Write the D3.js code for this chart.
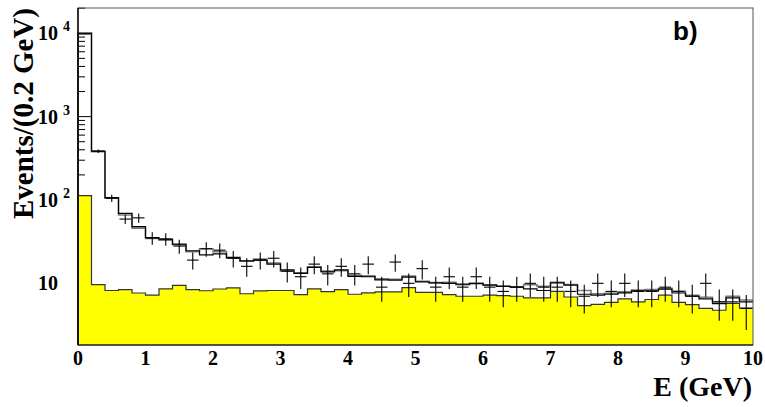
<!DOCTYPE html>
<html>
<head>
<meta charset="utf-8">
<script src="https://cdn.jsdelivr.net/npm/d3@7"></script>
<style>
  html, body { margin: 0; padding: 0; background: #fff; }
  svg { display: block; }
  .tick-label { font-family: "Liberation Serif", "DejaVu Serif", serif; font-weight: bold; font-size: 20px; fill: #000; }
  .axis-title { font-family: "Liberation Serif", "DejaVu Serif", serif; font-weight: bold; font-size: 29px; fill: #000; }
  .panel-tag { font-family: "Liberation Sans", Arial, sans-serif; font-weight: bold; font-size: 26px; fill: #000; }
</style>
</head>
<body>
<svg id="chart" width="765" height="407"></svg>
<script>
// Bin edges: 50 bins of 0.2 GeV from 0 to 10 GeV
const BIN_WIDTH = 0.2;
const X_TICKS = [0, 1, 2, 3, 4, 5, 6, 7, 8, 9, 10];
const Y_MAJOR = [10, 100, 1000, 10000];

// Background (yellow filled histogram)
const background = [113, 9.65, 8.2, 8.4, 7.65, 7.2, 8.6, 9.45, 8.4, 8.15,
  8.55, 8.8, 7.5, 8.1, 8.2, 8.2, 7.3, 8.6, 7.95, 8.4,
  7.4, 7.7, 7.9, 7.9, 8.9, 7.8, 7.8, 7.3, 7.0, 7.0,
  7.2, 7.1, 7.0, 6.7, 6.7, 8.0, 6.85, 5.4, 5.6, 5.9,
  6.5, 6.0, 6.4, 7.2, 5.9, 5.55, 5.0, 4.75, 5.75, 5.05];

// Total expectation, black line
const totalBlack = [10000, 385, 107, 69, 48, 35.3, 34, 29.6, 24.6, 22,
  22.5, 20.5, 18.6, 19, 17, 14.5, 13.2, 15.5, 13.7, 14.5,
  12.1, 12.2, 11, 10.9, 11.9, 10.4, 10.1, 10, 9.8, 9.9,
  9.5, 9.2, 9.0, 8.6, 8.2, 10.1, 9.5, 7.4, 7.2, 7.4,
  7.7, 8.1, 8.1, 8.5, 7.65, 7.0, 6.5, 5.7, 6.7, 6.0];

// Alternative expectation, grey line
const totalGrey = [10000, 380, 105, 66, 46, 34.5, 33, 29, 24, 26,
  24, 20, 18.4, 19.5, 17.5, 14, 13.4, 15.8, 14, 14.2,
  12.4, 12, 11.3, 11.2, 12.2, 10.6, 10.2, 10.3, 9.6, 10.1,
  9.6, 9.3, 9.1, 9.6, 9.2, 10.3, 9.7, 8.2, 7.5, 7.6,
  7.9, 8.3, 8.4, 8.7, 8.0, 7.2, 6.8, 6.0, 7.0, 6.3];

// Data counts per bin
const dataCounts = [9800, 385, 105, 59, 61, 35, 34, 28, 19, 26,
  25, 20, 16, 19, 20, 14, 12, 17, 13, 16,
  13, 17, 9, 18, 10, 15, 9, 12, 9, 12,
  9, 8, 9, 10, 9, 9, 8, 7, 10, 8,
  10, 8, 8, 9, 8, 7, 10, 6, 6, 5];

const plot = { left: 78, right: 753, top: 8, bottom: 345 };

const svg = d3.select('#chart');

const x = d3.scaleLinear().domain([0, 10]).range([plot.left, plot.right]);
const y = d3.scaleLog().domain([1.82, 20100]).range([plot.bottom, plot.top]);

const nBins = background.length;
const edges = d3.range(nBins + 1).map(i => i * BIN_WIDTH);

// y ticks: minor ticks at 2..9 per decade, major at powers of ten
const yTicks = [];
[1, 10, 100, 1000, 10000].forEach(dec => {
  for (let m = 1; m <= 9; m++) {
    const v = dec * m;
    if (v >= y.domain()[0] && v <= y.domain()[1]) yTicks.push({ v, major: m === 1 });
  }
});

svg.append('g')
  .selectAll('line')
  .data(yTicks)
  .join('line')
  .attr('x1', plot.left)
  .attr('x2', d => plot.left + (d.major ? 14 : 7))
  .attr('y1', d => y(d.v))
  .attr('y2', d => y(d.v))
  .attr('stroke', '#000')
  .attr('stroke-width', 1);

function stepPoints(values) {
  const pts = [[edges[0], y.domain()[0]]];
  values.forEach((v, i) => pts.push([edges[i], v]));
  pts.push([edges[nBins], values[nBins - 1]]);
  return pts;
}

// Yellow background
const area = d3.area()
  .curve(d3.curveStepAfter)
  .x(d => x(d[0]))
  .y0(plot.bottom)
  .y1(d => y(d[1]));

svg.append('path')
  .datum(stepPoints(background))
  .attr('d', area)
  .attr('fill', '#ffff00');

const line = d3.line()
  .curve(d3.curveStepAfter)
  .x(d => x(d[0]))
  .y(d => y(d[1]));

svg.append('path')
  .datum(stepPoints(background))
  .attr('d', line)
  .attr('fill', 'none')
  .attr('stroke', '#333')
  .attr('stroke-width', 1.2);

svg.append('path')
  .datum(stepPoints(totalGrey))
  .attr('d', line)
  .attr('fill', 'none')
  .attr('stroke', '#7a7a7a')
  .attr('stroke-width', 1.6);

svg.append('path')
  .datum(stepPoints(totalBlack))
  .attr('d', line)
  .attr('fill', 'none')
  .attr('stroke', '#000')
  .attr('stroke-width', 1.2);

// Data crosses with Poisson error bars
const pts = svg.append('g');
dataCounts.forEach((n, i) => {
  const xc = edges[i] + BIN_WIDTH / 2;
  const err = Math.sqrt(n);
  const lo = Math.max(n - err, y.domain()[0]);
  pts.append('line')
    .attr('x1', x(edges[i]) + 1).attr('x2', x(edges[i + 1]) - 1)
    .attr('y1', y(n)).attr('y2', y(n))
    .attr('stroke', '#000').attr('stroke-width', 1.1);
  pts.append('line')
    .attr('x1', x(xc)).attr('x2', x(xc))
    .attr('y1', y(n + err)).attr('y2', y(lo))
    .attr('stroke', '#000').attr('stroke-width', 1.1);
});

// Frame
svg.append('rect')
  .attr('x', plot.left).attr('y', plot.top)
  .attr('width', plot.right - plot.left)
  .attr('height', plot.bottom - plot.top)
  .attr('fill', 'none')
  .attr('stroke', '#555')
  .attr('stroke-width', 1);
svg.append('line')
  .attr('x1', plot.left).attr('x2', plot.left)
  .attr('y1', plot.top).attr('y2', plot.bottom)
  .attr('stroke', '#000').attr('stroke-width', 1.4);
svg.append('line')
  .attr('x1', plot.left).attr('x2', plot.right)
  .attr('y1', plot.bottom).attr('y2', plot.bottom)
  .attr('stroke', '#000').attr('stroke-width', 1.2);

// x tick labels
svg.append('g')
  .selectAll('text')
  .data(X_TICKS)
  .join('text')
  .attr('class', 'tick-label')
  .attr('x', d => x(d))
  .attr('y', 365)
  .attr('text-anchor', 'middle')
  .text(d => d);

// y tick labels: 10, 10^2, 10^3, 10^4
const yl = svg.append('g');
Y_MAJOR.forEach(v => {
  const exp = Math.round(Math.log10(v));
  const t = yl.append('text')
    .attr('class', 'tick-label')
    .attr('x', 38)
    .attr('y', y(v) + 7);
  t.append('tspan').text('10');
  if (exp > 1) {
    t.append('tspan')
      .attr('dx', 5)
      .attr('dy', -9)
      .style('font-size', '14px')
      .text(exp);
  }
});

// Axis titles
svg.append('text')
  .attr('class', 'axis-title')
  .attr('x', 752).attr('y', 396)
  .style('font-size', '28px')
  .attr('text-anchor', 'end')
  .text('E (GeV)');

svg.append('text')
  .attr('class', 'axis-title')
  .attr('transform', 'translate(33,8) rotate(-90)')
  .attr('text-anchor', 'end')
  .text('Events/(0.2 GeV)');

svg.append('text')
  .attr('class', 'panel-tag')
  .attr('x', 673).attr('y', 40)
  .text('b)');
</script>
</body>
</html>
